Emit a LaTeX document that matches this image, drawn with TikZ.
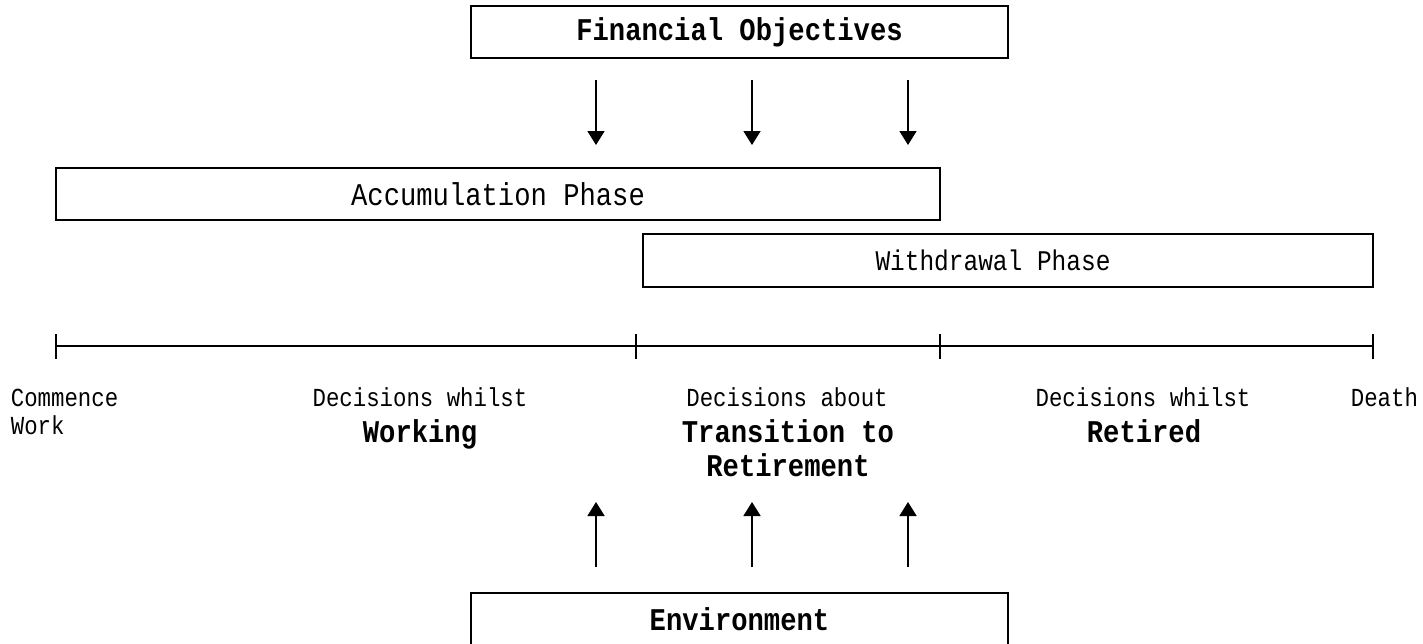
\documentclass[tikz,border=0pt]{standalone}
\usepackage{fontspec}
\setmonofont[FakeStretch=0.86]{Liberation Mono}
\usetikzlibrary{arrows.meta}

\begin{document}
\begin{tikzpicture}[
    x=0.02cm, y=-0.02cm, % one unit = one pixel of the sketch, y runs down
    line width=1pt,
    phasebox/.style={
        draw, % plain rectangle
        inner sep=0pt,
        minimum height=1.04cm
    },
    boxtext/.style={font=\ttfamily\fontsize{18}{21}\selectfont},
    keytext/.style={font=\ttfamily\bfseries\fontsize{18}{21}\selectfont, inner sep=0pt, anchor=base},
    smalltext/.style={font=\ttfamily\fontsize{14.8}{17}\selectfont, inner sep=0pt, anchor=base},
    flow/.style={-{Triangle[width=0.34cm, length=0.28cm]}}
]
\useasboundingbox (0,0) rectangle (1423,643);

% the boxes
\node[phasebox, keytext, anchor=center, minimum width=10.74cm] (fin) at (739.5,32) {Financial Objectives};
\node[phasebox, boxtext, minimum width=17.68cm] (acc) at (498,194) {Accumulation Phase};
\node[phasebox, minimum width=14.6cm, minimum height=1.06cm,
      label={[font=\ttfamily\fontsize{16.2}{19}\selectfont, xshift=-0.3cm]center:Withdrawal Phase}] (wdr) at (1008,260.5) {};
\node[phasebox, keytext, anchor=center, minimum width=10.74cm] (env) at (739.5,619) {Environment};

% arrows down from the objectives, up from the environment
\foreach \x [count=\i] in {596,752,908} {
    \coordinate (objtop\i) at (\x,80);
    \coordinate (objtip\i) at (\x,145);
    \coordinate (envtop\i) at (\x,567);
    \coordinate (envtip\i) at (\x,502);
    \draw[flow] (objtop\i) -- (objtip\i);
    \draw[flow] (envtop\i) -- (envtip\i);
}

% the time line
\coordinate (t0) at (56,346);
\coordinate (t1) at (636,346);
\coordinate (t2) at (940,346);
\coordinate (t3) at (1373,346);
\draw (t0) -- (t3);
\foreach \t in {t0,t1,t2,t3}
    \draw (\t) ++(0,-12) -- ++(0,25);

% labels under the time line
\node[smalltext, anchor=base west] (start1) at (10,406) {Commence};
\node[smalltext, anchor=base west] (start2) at (10,434) {Work};
\node[smalltext] (work1) at (420,406) {Decisions whilst};
\node[keytext] (work2) at (420,442) {Working};
\node[smalltext] (trans1) at (787,406) {Decisions about};
\node[keytext] (trans2) at (788,442) {Transition to};
\node[keytext] (trans3) at (788,476) {Retirement};
\node[smalltext] (ret1) at (1143,406) {Decisions whilst};
\node[keytext] (ret2) at (1144,442) {Retired};
\node[smalltext, anchor=base west] (end1) at (1350,406) {Death};
\end{tikzpicture}
\end{document}
